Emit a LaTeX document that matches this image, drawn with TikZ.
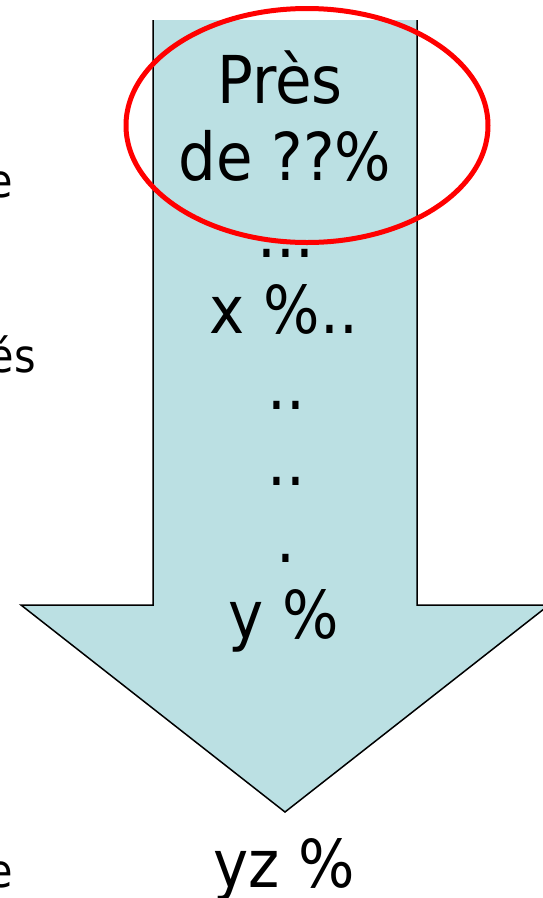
\documentclass[tikz,border=0pt]{standalone}
\usepackage{fontspec}
\setmainfont{DejaVu Sans Condensed}
\definecolor{arrowfill}{RGB}{187,224,227}
\begin{document}
\begin{tikzpicture}[x=1pt,y=-1pt]
	\tikzstyle{every node}=[font=\fontsize{66pt}{78pt}\selectfont,inner sep=0pt,anchor=base]
	\tikzstyle{sidetext}=[font=\fontsize{46pt}{55pt}\selectfont,anchor=base east]
	\useasboundingbox (0,0) rectangle (542,898);
	
	\fill [arrowfill] (153,20) -- (153,605) -- (21,605) -- (285,812) -- (549,605) -- (417,605) -- (417,20) -- cycle;
	\draw [line width=1.5pt] (153,20) -- (153,605) -- (21,605) -- (285,812) -- (549,605) -- (417,605) -- (417,20);
	
	\draw [red, line width=5pt] (307,125.5) ellipse (181 and 117);
	
	\node (pres) at (280,103) {Près};
	\node (de) at (285,180) {de ??\%};
	\node (dots1) at (286,257) {...};
	\node (xp) at (284,333) {x \%..};
	\node (dots2) at (286,409) {..};
	\node (dots3) at (286,485) {..};
	\node (dot4) at (286,562) {.};
	\node (yp) at (284,638) {y \%};
	\node (yzp) at (284,887) {yz \%};
	
	%\node at (0,100) {...};
	\node [sidetext] (left1) at (13,197) {e};
	\node [sidetext] (left2) at (36,372) {és};
	\node [sidetext] (left3) at (13,887) {e};
	
\end{tikzpicture}
\end{document}
